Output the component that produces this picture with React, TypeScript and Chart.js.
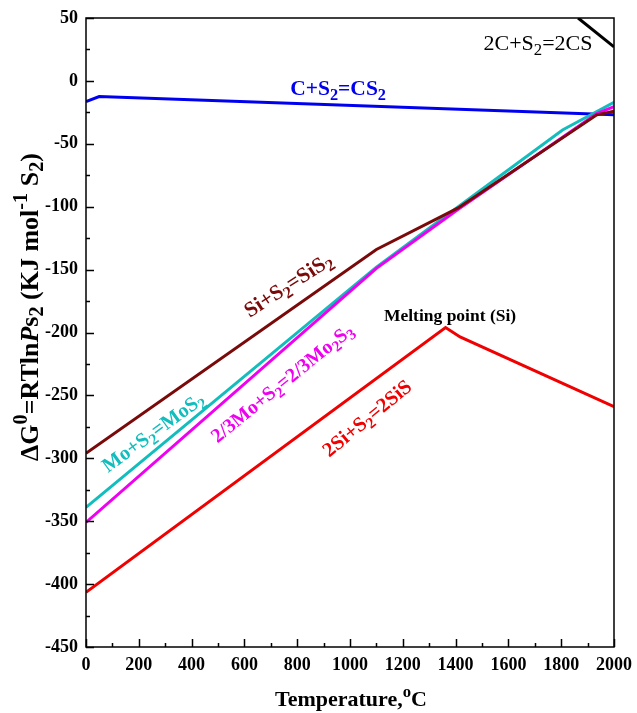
import React, { useEffect, useRef } from "react";
import { Chart, registerables } from "chart.js";

Chart.register(...registerables);

// ---- data (temperature °C, ΔG kJ/mol S2) ----
const cs2T = [0, 50, 2000];
const cs2G = [-16.5, -12.5, -27];

const csT = [1864, 2000];
const csG = [50, 27];

const sis2T = [0, 1100, 1410, 1935, 2000];
const sis2G = [-296, -134, -101, -27, -24];

const mos2T = [0, 1100, 1410, 1805, 2000];
const mos2G = [-339, -148, -100, -39, -17];

const mo2s3T = [0, 1100, 1410, 1935, 2000];
const mo2s3G = [-351, -149, -102, -26, -20.5];

const sisT = [0, 1362, 1417, 2000];
const sisG = [-406.5, -196, -203.5, -259];

const xMin = 0, xMax = 2000, xStep = 200;
const yMin = -450, yMax = 50, yStep = 50;

type Seg = { t: string; k?: "sub" | "sup"; it?: boolean };

const labelTexts: Seg[][] = [
  [{ t: "C+S" }, { t: "2", k: "sub" }, { t: "=CS" }, { t: "2", k: "sub" }],
  [{ t: "2C+S" }, { t: "2", k: "sub" }, { t: "=2CS" }],
  [{ t: "Si+S" }, { t: "2", k: "sub" }, { t: "=SiS" }, { t: "2", k: "sub" }],
  [{ t: "Mo+S" }, { t: "2", k: "sub" }, { t: "=MoS" }, { t: "2", k: "sub" }],
  [{ t: "2/3Mo+S" }, { t: "2", k: "sub" }, { t: "=2/3Mo" }, { t: "2", k: "sub" }, { t: "S" }, { t: "3", k: "sub" }],
  [{ t: "2Si+S" }, { t: "2", k: "sub" }, { t: "=2SiS" }],
  [{ t: "Melting point (Si)" }],
];
const labelT = [955, 1712, 765, 254, 742, 1064, 1379];
const labelG = [-5.6, 30.2, -162, -279, -240, -268, -186];

const FAM = '"Liberation Serif", "Times New Roman", serif';

const labelStyle = [
  { color: "#0000F0", size: 21.5, weight: "bold", angle: 0 },
  { color: "#000000", size: 22, weight: "normal", angle: 0 },
  { color: "#7A0A0A", size: 21.5, weight: "bold", angle: -33 },
  { color: "#12BDBD", size: 20.5, weight: "bold", angle: -36 },
  { color: "#F000F0", size: 20, weight: "bold", angle: -39 },
  { color: "#F00000", size: 20.5, weight: "bold", angle: -39.5 },
  { color: "#000000", size: 17.5, weight: "bold", angle: 0 },
];

const yTitle: Seg[] = [
  { t: "ΔG" }, { t: "0", k: "sup" }, { t: "=RTln" }, { t: "P", it: true }, { t: "s" }, { t: "2", k: "sub" },
  { t: " (KJ mol" }, { t: "-1", k: "sup" }, { t: " S" }, { t: "2", k: "sub" }, { t: ")" },
];
const xTitle: Seg[] = [{ t: "Temperature," }, { t: "o", k: "sup" }, { t: "C" }];

function drawRich(
  ctx: CanvasRenderingContext2D,
  segs: Seg[],
  cx: number,
  cy: number,
  angle: number,
  size: number,
  weight: string,
  color: string,
  subScale = 0.76
) {
  const fontFor = (s: Seg) =>
    `${s.it ? "italic " : ""}${weight} ${s.k ? size * subScale : size}px ${FAM}`;
  const widths = segs.map((s) => {
    ctx.font = fontFor(s);
    return ctx.measureText(s.t).width;
  });
  const total = widths.reduce((a, b) => a + b, 0);
  ctx.save();
  ctx.translate(cx, cy);
  ctx.rotate((angle * Math.PI) / 180);
  ctx.fillStyle = color;
  ctx.textAlign = "left";
  ctx.textBaseline = "alphabetic";
  let x = -total / 2;
  const base = size * 0.33;
  segs.forEach((s, i) => {
    ctx.font = fontFor(s);
    const dy = s.k === "sub" ? size * 0.22 : s.k === "sup" ? -size * 0.4 : 0;
    ctx.fillText(s.t, x, base + dy);
    x += widths[i];
  });
  ctx.restore();
}

const decorPlugin = {
  id: "decor",
  afterDraw(chart: any) {
    const ctx: CanvasRenderingContext2D = chart.ctx;
    const { left, top, right, bottom } = chart.chartArea;
    const xs = chart.scales.x;
    const ys = chart.scales.y;
    ctx.save();
    ctx.strokeStyle = "#000";
    ctx.lineWidth = 1.5;
    ctx.strokeRect(left, top, right - left, bottom - top);
    ctx.beginPath();
    for (let v = xMin; v <= xMax; v += xStep / 2) {
      const px = Math.round(xs.getPixelForValue(v)) + 0.5;
      const len = v % xStep === 0 ? 8 : 4;
      ctx.moveTo(px, bottom);
      ctx.lineTo(px, bottom - len);
    }
    for (let v = yMin; v <= yMax; v += yStep / 2) {
      const py = Math.round(ys.getPixelForValue(v)) + 0.5;
      const len = v % yStep === 0 ? 8 : 4;
      ctx.moveTo(left, py);
      ctx.lineTo(left + len, py);
    }
    ctx.stroke();
    ctx.restore();

    labelTexts.forEach((segs, i) => {
      const st = labelStyle[i];
      drawRich(
        ctx,
        segs,
        xs.getPixelForValue(labelT[i]),
        ys.getPixelForValue(labelG[i]),
        st.angle,
        st.size,
        st.weight,
        st.color
      );
    });

    drawRich(ctx, yTitle, 29, 307, -90, 26, "bold", "#000", 0.78);
    drawRich(ctx, xTitle, 351, 699, 0, 22, "bold", "#000");
  },
};

function pts(t: number[], g: number[]) {
  return t.map((x, i) => ({ x, y: g[i] }));
}

export default function App() {
  const ref = useRef<HTMLCanvasElement | null>(null);
  useEffect(() => {
    document.body.style.margin = "0";
    const mk = (t: number[], g: number[], color: string, order: number) => ({
      data: pts(t, g),
      borderColor: color,
      borderWidth: 3,
      pointRadius: 0,
      fill: false,
      tension: 0,
      order,
    });
    const chart = new Chart(ref.current as HTMLCanvasElement, {
      type: "line",
      data: {
        datasets: [
          mk(sis2T, sis2G, "#7A0A0A", 1),
          mk(mo2s3T, mo2s3G, "#F000F0", 2),
          mk(mos2T, mos2G, "#12BDBD", 3),
          mk(sisT, sisG, "#F00000", 4),
          mk(cs2T, cs2G, "#0000F0", 5),
          mk(csT, csG, "#000000", 6),
        ] as any,
      },
      options: {
        responsive: false,
        animation: false,
        events: [],
        layout: { padding: { left: 0, top: 18, right: 23, bottom: 0 } },
        plugins: { legend: { display: false }, tooltip: { enabled: false } },
        scales: {
          x: {
            type: "linear",
            min: xMin,
            max: xMax,
            grid: { display: false, drawTicks: false },
            border: { display: false },
            ticks: {
              stepSize: xStep,
              padding: 8,
              color: "#000",
              maxRotation: 0,
              callback: (v: any) => String(v),
              font: { family: FAM, size: 18, weight: "bold" },
            },
            afterFit: (s: any) => {
              s.height = 66;
              s.paddingLeft = 0;
              s.paddingRight = 0;
            },
          },
          y: {
            type: "linear",
            min: yMin,
            max: yMax,
            grid: { display: false, drawTicks: false },
            border: { display: false },
            ticks: {
              stepSize: yStep,
              padding: 8,
              color: "#000",
              callback: (v: any) => String(v),
              font: { family: FAM, size: 18, weight: "bold" },
            },
            afterFit: (s: any) => {
              s.width = 86;
              s.paddingTop = 0;
              s.paddingBottom = 0;
            },
          },
        },
      } as any,
      plugins: [decorPlugin],
    });
    return () => chart.destroy();
  }, []);
  return (
    <div style={{ position: "absolute", left: 0, top: 0, width: 637, height: 713, background: "#fff" }}>
      <canvas ref={ref} width={637} height={713} />
    </div>
  );
}
